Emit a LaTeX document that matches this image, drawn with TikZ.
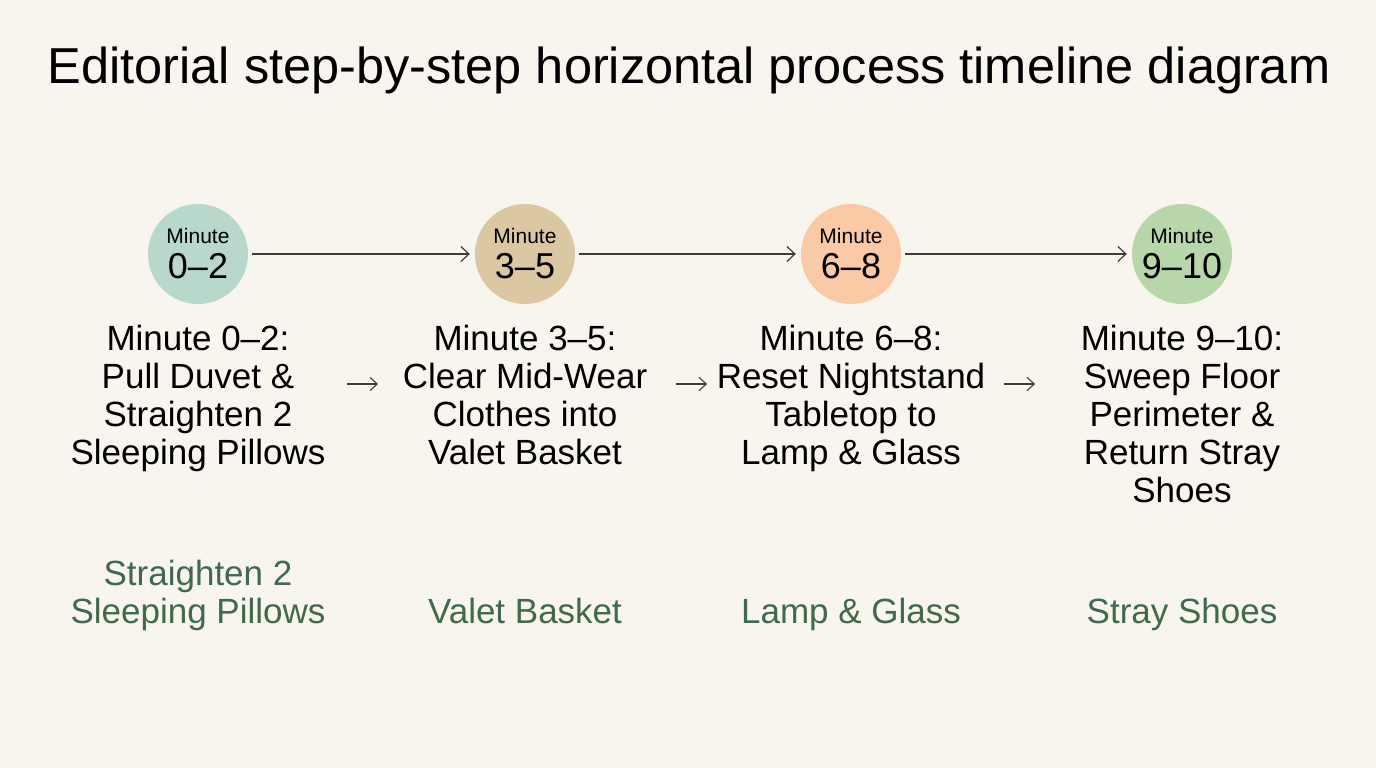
\documentclass[tikz,border=0pt]{standalone}
\usepackage{fontspec}
\setmainfont{Liberation Sans}
\usetikzlibrary{arrows.meta}
\definecolor{paper}{HTML}{F7F5EE}
\definecolor{ink}{HTML}{3C3C3C}
\definecolor{leaf}{HTML}{41694A}
\definecolor{sage}{HTML}{B8D8CC}
\definecolor{tan}{HTML}{DCC7A3}
\definecolor{peach}{HTML}{FAC9A5}
\definecolor{moss}{HTML}{B7D6A9}
\begin{document}
\begin{tikzpicture}[x=1pt,y=-1pt,
    stage/.style={circle,minimum size=100pt,inner sep=0pt,align=center,text=black,font=\fontsize{36}{35}\selectfont},
    steptext/.style={align=center,anchor=base,inner sep=0pt,font=\fontsize{35}{38}\selectfont},
    note/.style={steptext,text=leaf},
    link/.style={draw=ink,line width=1.2pt,-{Straight Barb[length=8pt,width=15pt,line width=1.2pt]}},
    hint/.style={draw=ink,line width=1.1pt,-{Straight Barb[length=7pt,width=13pt,line width=1.1pt]}}]
  \fill[paper](0,0)rectangle(1376,768);
  \useasboundingbox(0,0)rectangle(1376,768);
  % title
  \node[anchor=base,inner sep=0pt,font=\fontsize{50.5}{52}\selectfont](title)at(689,84){Editorial step-by-step horizontal process timeline diagram};
  % stages
  \node[stage,fill=sage](c1)at(198,254){{\fontsize{21}{24}\selectfont Minute}\\0--2};
  \node[stage,fill=tan](c2)at(525,254){{\fontsize{21}{24}\selectfont Minute}\\3--5};
  \node[stage,fill=peach](c3)at(851,254){{\fontsize{21}{24}\selectfont Minute}\\6--8};
  \node[stage,fill=moss](c4)at(1182,254){{\fontsize{21}{24}\selectfont Minute}\\9--10};
  \draw[link,shorten <=4pt,shorten >=5pt](c1)--(c2);
  \draw[link,shorten <=4pt,shorten >=5pt](c2)--(c3);
  \draw[link,shorten <=4pt,shorten >=5pt](c3)--(c4);
  % step texts (base = last line)
  \node[steptext](t1)at(198,464){Minute 0--2:\\Pull Duvet \&\\Straighten 2\\Sleeping Pillows};
  \node[steptext](t2)at(525,464){Minute 3--5:\\Clear Mid-Wear\\Clothes into\\Valet Basket};
  \node[steptext](t3)at(851,464){Minute 6--8:\\Reset Nightstand\\Tabletop to\\Lamp \& Glass};
  \node[steptext](t4)at(1182,502){Minute 9--10:\\Sweep Floor\\Perimeter \&\\Return Stray\\Shoes};
  \coordinate(s1)at(347,384);\coordinate(e1)at(378,384);
  \coordinate(s2)at(676,384);\coordinate(e2)at(707,384);
  \coordinate(s3)at(1004,384);\coordinate(e3)at(1035,384);
  \draw[hint](s1)--(e1);
  \draw[hint](s2)--(e2);
  \draw[hint](s3)--(e3);
  % notes
  \node[note](n1)at(198,623){Straighten 2\\Sleeping Pillows};
  \node[note](n2)at(525,623){Valet Basket};
  \node[note](n3)at(851,623){Lamp \& Glass};
  \node[note](n4)at(1182,623){Stray Shoes};
\end{tikzpicture}
\end{document}
